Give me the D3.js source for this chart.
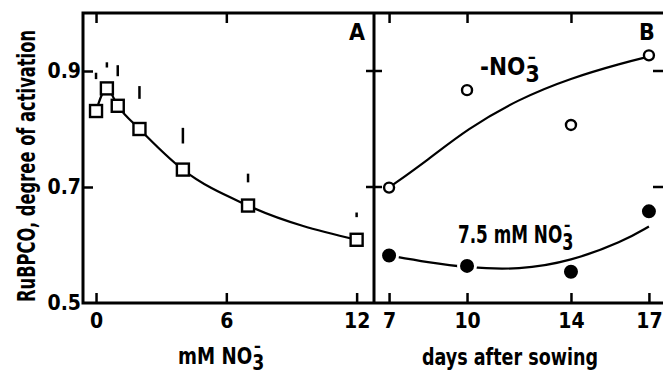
<!DOCTYPE html>
<html>
<head>
<meta charset="utf-8">
<script src="https://cdn.jsdelivr.net/npm/d3@7"></script>
<style>
  body { margin: 0; background: #fff; }
  svg { display: block; }
  text { font-family: "DejaVu Sans Condensed", "DejaVu Sans", sans-serif; fill: #000; font-weight: bold; }
</style>
</head>
<body>
<svg width="663" height="374"></svg>
<script>
// panel A: nitrate concentration
var nitrateMM = [0, 0.5, 1, 2, 4, 7, 12];
var activationA = [0.831, 0.870, 0.840, 0.800, 0.730, 0.668, 0.609];
var errA = [[0.886, 0.897], [0.906, 0.915], [0.891, 0.910], [0.852, 0.874], [0.775, 0.802], [0.708, 0.723], [0.648, 0.656]];

// panel B: days after sowing
var days = [7, 10, 14, 17];
var minusNO3 = [0.699, 0.867, 0.807, 0.927];
var plusNO3 = [0.582, 0.564, 0.554, 0.658];
// fitted curves in panel B
var fitDays = [7, 8.5, 10, 12, 14, 16, 17];
var fitMinus = [0.699, 0.747, 0.800, 0.852, 0.888, 0.914, 0.925];
var fitPlus = [0.582, 0.570, 0.561, 0.557, 0.572, 0.606, 0.632];

var yTicks = [0.5, 0.7, 0.9];
var xTicksA = [0, 6, 12];
var xTicksB = [7, 10, 14, 17];

var svg = d3.select('svg');
var top_ = 13, bottom = 303, left = 83, mid = 374, right = 664;

var y = d3.scaleLinear().domain([0.5, 1.0]).range([bottom, top_]);
var xA = d3.scaleLinear().domain([-0.6, 12.8]).range([left, mid]);
var xB = d3.scaleLinear().domain([6.42, 17.58]).range([mid, right]);

// frame
svg.append('path')
  .attr('d', 'M' + left + ',' + top_ + 'H' + right + 'M' + left + ',' + (top_ - 1.5) + 'V' + bottom + 'H' + right
    + 'M' + mid + ',' + top_ + 'V' + bottom)
  .attr('fill', 'none').attr('stroke', '#000').attr('stroke-width', 3);

function ticks(g){
  g.select('.domain').remove();
  g.selectAll('.tick line').attr('stroke', '#000').attr('stroke-width', 2.5);
  g.selectAll('.tick text').attr('font-size', 21).attr('font-family', null);
}

// bottom axes with labels
svg.append('g').attr('transform', 'translate(0,' + bottom + ')')
  .call(d3.axisBottom(xA).tickValues(xTicksA).tickSizeInner(-10).tickSizeOuter(0).tickPadding(10).tickFormat(d3.format('d')))
  .call(ticks);
svg.append('g').attr('transform', 'translate(0,' + bottom + ')')
  .call(d3.axisBottom(xB).tickValues(xTicksB).tickSizeInner(-10).tickSizeOuter(0).tickPadding(10).tickFormat(d3.format('d')))
  .call(ticks);

// top ticks (no labels)
svg.append('g').attr('transform', 'translate(0,' + top_ + ')')
  .call(d3.axisTop(xA).tickValues([0, 6]).tickSizeInner(-10).tickSizeOuter(0).tickFormat(''))
  .call(ticks);
svg.append('g').attr('transform', 'translate(0,' + top_ + ')')
  .call(d3.axisTop(xB).tickValues([7, 10, 14]).tickSizeInner(-10).tickSizeOuter(0).tickFormat(''))
  .call(ticks);

// left axis
var yAx = svg.append('g').attr('transform', 'translate(' + left + ',0)')
  .call(d3.axisLeft(y).tickValues(yTicks).tickSizeInner(-10).tickSizeOuter(0).tickPadding(2).tickFormat(d3.format('.1f')))
  .call(ticks);
yAx.selectAll('.tick line').filter(function(d){ return d === 0.5; }).remove();

// divider ticks crossing both sides, and right edge ticks
svg.append('g').selectAll('line').data([0.7, 0.9]).join('line')
  .attr('x1', mid - 8).attr('x2', mid + 8)
  .attr('y1', function(d){ return y(d); }).attr('y2', function(d){ return y(d); })
  .attr('stroke', '#000').attr('stroke-width', 2.5);
svg.append('g').selectAll('line').data([0.7, 0.9]).join('line')
  .attr('x1', right - 11).attr('x2', right)
  .attr('y1', function(d){ return y(d); }).attr('y2', function(d){ return y(d); })
  .attr('stroke', '#000').attr('stroke-width', 2.5);

// panel A curve
var lineA = d3.line().x(function(d){ return xA(d[0]); }).y(function(d){ return y(d[1]); }).curve(d3.curveMonotoneX);
svg.append('path').datum(d3.zip(nitrateMM, activationA))
  .attr('d', lineA).attr('fill', 'none').attr('stroke', '#000').attr('stroke-width', 2.2);

// error bar fragments
svg.append('g').selectAll('line').data(d3.zip(nitrateMM, errA)).join('line')
  .attr('x1', function(d){ return xA(d[0]); }).attr('x2', function(d){ return xA(d[0]); })
  .attr('y1', function(d){ return y(d[1][0]); }).attr('y2', function(d){ return y(d[1][1]); })
  .attr('stroke', '#000').attr('stroke-width', 2.5);

// squares
svg.append('g').selectAll('rect').data(d3.zip(nitrateMM, activationA)).join('rect')
  .attr('x', function(d){ return xA(d[0]) - 6; }).attr('y', function(d){ return y(d[1]) - 6; })
  .attr('width', 12).attr('height', 12)
  .attr('fill', '#fff').attr('stroke', '#000').attr('stroke-width', 2.4);

// panel B curves
var lineB = d3.line().x(function(d){ return xB(d[0]); }).y(function(d){ return y(d[1]); }).curve(d3.curveBasis);
svg.append('path').datum(d3.zip(fitDays, fitMinus))
  .attr('d', lineB).attr('fill', 'none').attr('stroke', '#000').attr('stroke-width', 2.2);
svg.append('path').datum(d3.zip(fitDays, fitPlus))
  .attr('d', lineB).attr('fill', 'none').attr('stroke', '#000').attr('stroke-width', 2.2);

// open circles
svg.append('g').selectAll('circle').data(d3.zip(days, minusNO3)).join('circle')
  .attr('cx', function(d){ return xB(d[0]); }).attr('cy', function(d){ return y(d[1]); })
  .attr('r', 5).attr('fill', '#fff').attr('stroke', '#000').attr('stroke-width', 2.4);

// filled circles, white halo to break the line
svg.append('g').selectAll('circle').data(d3.zip(days, plusNO3)).join('circle')
  .attr('cx', function(d){ return xB(d[0]); }).attr('cy', function(d){ return y(d[1]); })
  .attr('r', 8.5).attr('fill', '#000').attr('stroke', '#fff').attr('stroke-width', 3);

// panel letters
svg.append('text').attr('x', 357).attr('y', 40).attr('text-anchor', 'middle').attr('font-size', 23).text('A');
svg.append('text').attr('x', 647).attr('y', 40).attr('text-anchor', 'middle').attr('font-size', 23).text('B');

// NO3- with stacked sub/superscript, squeezed horizontally like the original lettering
function no3(x, yb, size, sx, prefix){
  var t = svg.append('text').attr('font-size', size)
    .attr('transform', 'translate(' + x + ',' + yb + ') scale(' + sx + ',1)');
  t.append('tspan').text(prefix + 'NO');
  t.append('tspan').attr('dy', size * 0.28).attr('font-size', size * 0.95).text('3');
  t.append('tspan').attr('dx', -size * 0.5).attr('dy', -size * 0.8).attr('font-size', size * 0.75).text('\u2013');
  return t;
}

no3(480, 75, 24, 1, '-');
no3(458, 243, 24, 0.78, '7.5 mM ');

// axis titles
no3(178, 364, 23, 0.88, 'mM ');
svg.append('text').attr('x', 510).attr('y', 365).attr('text-anchor', 'middle').attr('font-size', 23)
  .attr('textLength', 176).attr('lengthAdjust', 'spacingAndGlyphs').text('days after sowing');

svg.append('text').attr('transform', 'translate(35,166) rotate(-90)').attr('text-anchor', 'middle')
  .attr('font-size', 25).attr('textLength', 272).attr('lengthAdjust', 'spacingAndGlyphs')
  .text('RuBPCO, degree of activation');
</script>
</body>
</html>
